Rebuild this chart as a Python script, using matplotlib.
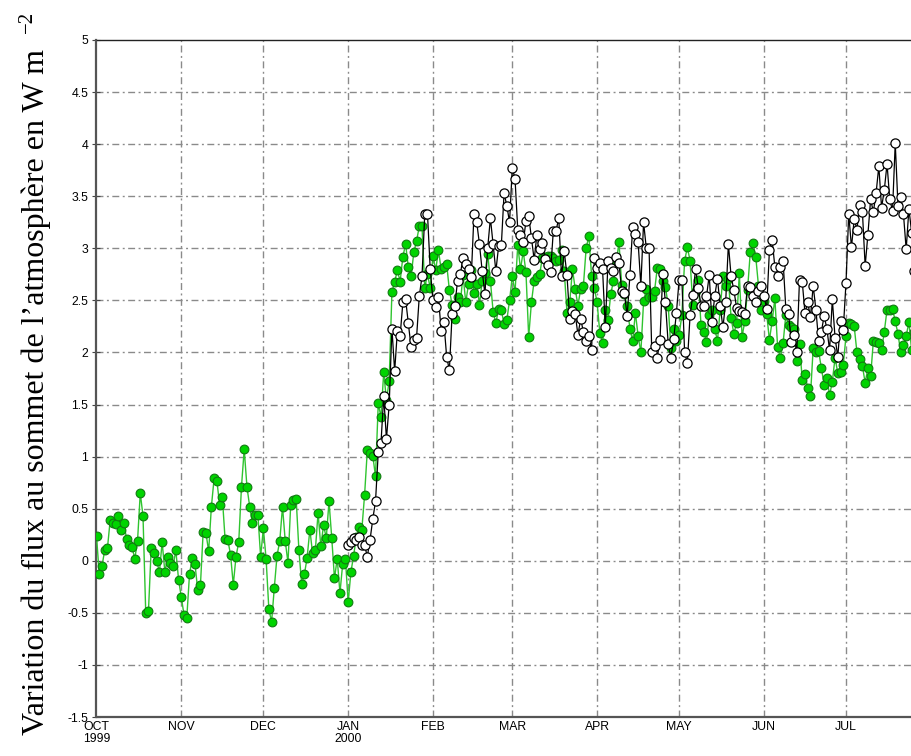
import matplotlib
matplotlib.use("Agg")
import matplotlib.pyplot as plt
import numpy as np
import pandas as pd

# ---------------- data (daily values) ----------------
green_start = "1999-10-01"
green_vals = [
    0.24, -0.13, -0.05, 0.10, 0.12, 0.39, 0.36, 0.35, 0.43, 0.30,
    0.36, 0.21, 0.15, 0.13, 0.02, 0.19, 0.65, 0.43, -0.50, -0.48,
    0.12, 0.07, 0.00, -0.11, 0.18, -0.11, 0.04, -0.02, -0.05, 0.10,
    -0.18, -0.35, -0.52, -0.55, -0.13, 0.03, -0.03, -0.28, -0.23, 0.28,
    0.27, 0.09, 0.52, 0.79, 0.77, 0.54,
    0.61, 0.21, 0.20, 0.06, -0.23, 0.04, 0.18, 0.71, 1.07, 0.71, 0.52, 0.36, 0.44, 0.44,
    0.04, 0.31, 0.02, -0.46, -0.59, -0.26, 0.05, 0.19, 0.52, 0.19, -0.02, 0.54, 0.58, 0.59,
    0.10, -0.22, -0.13, 0.03, 0.30, 0.07, 0.10, 0.46, 0.14, 0.34, 0.22, 0.57, 0.22, -0.17,
    0.02, -0.31, -0.03, 0.02, -0.40, -0.11,
    0.05, 0.23, 0.32, 0.30, 0.63, 1.06, 1.03, 1.01, 0.81, 1.51, 1.38, 1.81, 1.54, 1.73,
    2.58, 2.68, 2.79, 2.68, 2.92, 3.04, 2.82, 2.73, 2.96, 3.07, 3.21, 3.21, 2.62, 2.75,
    2.62, 2.93, 2.79, 2.98,
    2.80, 2.82, 2.85, 2.60, 2.46, 2.32, 2.53, 2.48, 2.74, 2.48, 2.66, 2.79, 2.57, 2.66,
    2.46, 2.69, 2.76, 2.95, 2.69, 2.39, 2.28, 2.42, 2.41, 2.27, 2.31, 2.50, 2.73, 2.58,
    3.03, 2.80, 2.97, 2.77, 2.15, 2.48, 2.69, 2.72, 2.75, 2.91, 2.92, 2.93,
    2.93, 2.91, 2.88, 2.89, 2.98, 2.78, 2.38, 2.48, 2.80, 2.61, 2.45, 2.61, 2.64, 3.00,
    3.12, 2.73, 2.62, 2.48, 2.19, 2.09, 2.41, 2.31, 2.56, 2.69, 2.86, 3.06, 2.65, 2.56,
    2.45, 2.23, 2.11, 2.38, 2.16, 2.00, 2.49, 2.61, 2.53, 2.53, 2.59, 2.81,
    2.80, 2.69, 2.63, 2.45, 2.04, 2.23, 2.11, 2.17, 2.36, 2.88, 3.01, 2.88, 2.46, 2.59,
    2.70, 2.26, 2.20, 2.10, 2.36, 2.41, 2.23, 2.11, 2.41, 2.73, 2.64, 2.71, 2.33, 2.18,
    2.28, 2.76, 2.15, 2.30, 2.60, 2.96, 3.05, 2.92, 2.64, 2.41, 2.49, 2.37, 2.12, 2.30, 2.52,
    2.05, 1.95, 2.09, 2.36, 2.26, 2.24, 2.23, 1.92, 2.08, 1.74, 1.79, 1.66, 1.58, 2.04,
    2.00, 2.01, 1.85, 1.69, 1.75, 1.59, 1.72, 1.95, 1.80, 1.81, 1.88, 2.16, 2.28, 2.27,
    2.25, 2.00, 1.94, 1.87, 1.71, 1.85, 1.77, 2.11, 2.10, 2.09, 2.02, 2.20, 2.41, 2.41,
    2.42, 2.30, 2.18, 2.00, 2.07, 2.16, 2.29, 2.02, 2.20, 2.10,
]

black_start = "2000-01-01"
black_vals = [
    0.15, 0.18, 0.22, 0.20, 0.23, 0.15, 0.15, 0.04, 0.20, 0.40, 0.57, 1.04, 1.13, 1.58,
    1.17, 1.50, 2.23, 1.82, 2.21, 2.16, 2.48, 2.51, 2.28, 2.05, 2.12, 2.14, 2.54, 2.73,
    3.33, 3.33, 2.80, 2.50, 2.44, 2.53, 2.21, 2.29, 1.96, 1.83,
    2.37, 2.45, 2.69, 2.75, 2.91, 2.85, 2.80, 2.72, 3.33, 3.25, 3.04, 2.78, 2.56, 3.00,
    3.29, 3.04, 2.78, 3.02, 3.03, 3.53, 3.41, 3.25, 3.77, 3.67, 3.18, 3.13, 3.06, 3.26,
    3.31, 3.10, 2.89, 3.13, 2.99, 3.05, 2.90, 2.84,
    2.77, 3.17, 3.17, 3.29, 2.73, 2.97, 2.74, 2.32, 2.40, 2.37, 2.17, 2.32, 2.20, 2.11,
    2.16, 2.02, 2.91, 2.81, 2.86, 2.80, 2.24, 2.88, 2.81, 2.78, 2.92, 2.86, 2.59, 2.57,
    2.35, 2.74, 3.20, 3.14, 3.06, 2.64, 3.25, 3.00, 3.00, 2.00, 2.06, 1.95,
    2.12, 2.75, 2.48, 2.08, 1.95, 2.13, 2.38, 2.70, 2.70, 2.00, 1.90, 2.36, 2.55, 2.80,
    2.62, 2.45, 2.45, 2.54, 2.74, 2.29, 2.54, 2.71, 2.45, 2.24, 2.48, 3.04, 2.73, 2.60,
    2.43, 2.40, 2.39, 2.37, 2.64, 2.63, 2.54, 2.48, 2.59, 2.64, 2.54, 2.42, 2.98, 3.08,
    2.82, 2.73,
    2.82, 2.88, 2.42, 2.37, 2.10, 2.17, 2.00, 2.70, 2.68, 2.38, 2.48, 2.34, 2.64, 2.41,
    2.11, 2.20, 2.35, 2.23, 2.02, 2.51, 2.14, 1.96, 2.30, 2.22, 2.67, 3.33, 3.01, 3.28,
    3.18, 3.42, 3.35, 2.83, 3.13, 3.47, 3.35, 3.53, 3.79, 3.39, 3.56, 3.81, 3.47, 3.36,
    4.01, 3.41, 3.49, 3.33, 2.99, 3.38, 3.15, 2.78, 3.00,
]

month_ticks = ["1999-10-01", "1999-11-01", "1999-12-01", "2000-01-01", "2000-02-01",
               "2000-03-01", "2000-04-01", "2000-05-01", "2000-06-01", "2000-07-01"]
month_labels = ["OCT\n1999", "NOV", "DEC", "JAN\n2000", "FEB", "MAR", "APR", "MAY",
                "JUN", "JUL"]
y_ticks = [-1.5, -1, -0.5, 0, 0.5, 1, 1.5, 2, 2.5, 3, 3.5, 4, 4.5, 5]
y_labels = ["-1.5", "-1", "-0.5", "0", "0.5", "1", "1.5", "2", "2.5", "3", "3.5", "4",
            "4.5", "5"]
ylabel_main = "Variation du flux au sommet de l\u2019atmosph\u00e8re en W m"
ylabel_sup = "\u22122"

# ---------------- figure ----------------
fig = plt.figure(figsize=(9.12, 7.56), dpi=100)
ax = fig.add_axes([96.5 / 912, 39 / 756, 834.3 / 912, 677 / 756])

gdates = pd.date_range(green_start, periods=len(green_vals), freq="D")
bdates = pd.date_range(black_start, periods=len(black_vals), freq="D")

ax.plot(gdates, green_vals, color="#2fc42f", lw=1.0, marker="o", ms=6.3,
        mfc="#00d400", mec="#127a12", mew=0.8, zorder=3)
ax.plot(bdates, black_vals, color="black", lw=0.9, marker="o", ms=6.6,
        mfc="white", mec="black", mew=0.9, zorder=4)

ax.set_xlim(pd.Timestamp("1999-10-01"), pd.Timestamp("2000-08-01"))
ax.set_ylim(-1.5, 5)

tick_dates = [pd.Timestamp(d) for d in month_ticks]
ax.set_xticks(tick_dates)
ax.set_xticklabels(month_labels, family="Liberation Sans", fontsize=8.8,
                   linespacing=0.95)
ax.set_yticks(y_ticks)
ax.set_yticklabels(y_labels, family="Liberation Sans", fontsize=8.8)
ax.tick_params(axis="x", length=0, pad=3)
ax.tick_params(axis="y", length=6, direction="inout", pad=3, color="#444444")

grid_kw = dict(color="#8a8a8a", lw=1.0, dashes=(5, 2.5, 1.4, 2.5), zorder=1)
for yv in y_ticks[1:-1]:
    ax.axhline(yv, **grid_kw)
for d in tick_dates[1:]:
    ax.axvline(d, **grid_kw)

for side in ["left", "bottom"]:
    ax.spines[side].set_color("#555555")
    ax.spines[side].set_linewidth(1.6)
ax.spines["top"].set_color("#222222")
ax.spines["top"].set_linewidth(1.0)
ax.spines["right"].set_visible(False)

# y label (rotated) with a detached superscript, as in the reference
lab = fig.text(36 / 912, 21 / 756, ylabel_main, rotation=90, ha="center",
               va="bottom", family="Liberation Serif", fontsize=23)
fig.canvas.draw()
bb = lab.get_window_extent(renderer=fig.canvas.get_renderer())
top_px = bb.y1  # display coords (origin bottom-left)
fig.text((bb.x0 - 3) / 912, (top_px + 16) / 756, ylabel_sup, rotation=90,
         ha="left", va="bottom", family="Liberation Serif", fontsize=15)

fig.savefig("out.png", dpi=100)
